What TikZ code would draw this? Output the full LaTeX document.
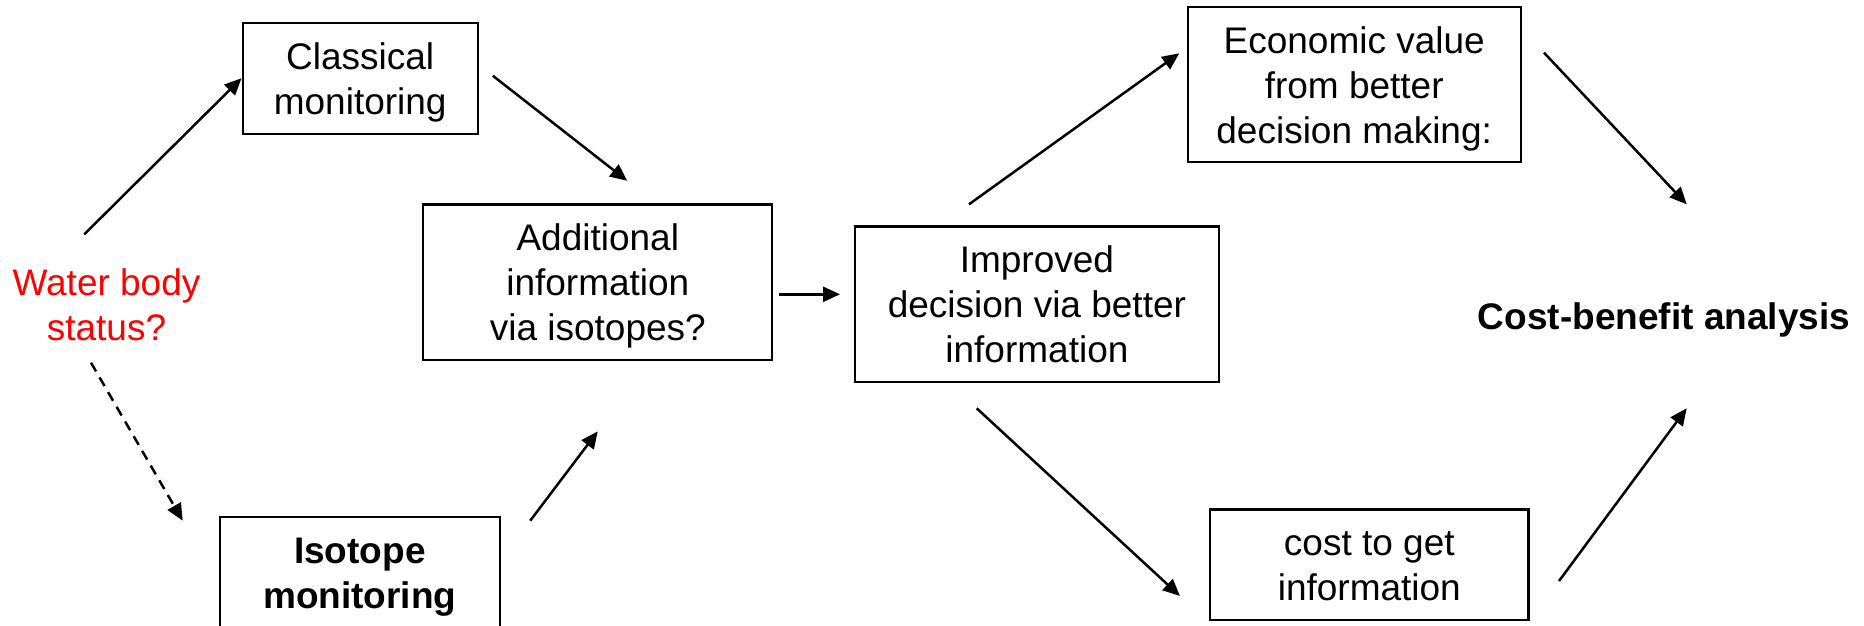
\documentclass[tikz,border=0pt]{standalone}
\usepackage{fontspec}
\setmainfont{Liberation Sans}
\usetikzlibrary{arrows.meta}
\newcommand{\lstrut}{\rule[-8.4pt]{0pt}{43.4pt}}
\begin{document}
\begin{tikzpicture}[x=1pt,y=-1pt,
  box/.style={draw, line width=2.3pt, rectangle, inner sep=0pt, align=center,
    font=\fontsize{37}{45}\selectfont},
  lbl/.style={inner sep=0pt, align=center, font=\fontsize{37}{45}\selectfont},
  arr/.style={line width=2.5pt, -{Triangle[length=17pt,width=15pt]}},
  darr/.style={arr, dash pattern=on 10pt off 7pt},
]
\useasboundingbox (0,0) rectangle (1864,626);
\clip (0,0) rectangle (1864,626);

% boxes
\node[box, minimum width=235pt, minimum height=111pt] (classical) at (360.2,78.2)
  {\lstrut Classical\\\lstrut monitoring};
\node[box, minimum width=349pt, minimum height=155.7pt] (additional) at (597.8,282.2)
  {\lstrut Additional\\\lstrut information\\\lstrut via isotopes?};
\node[box, minimum width=363.7pt, minimum height=155.7pt] (improved) at (1036.9,304.2)
  {\lstrut Improved\\\lstrut decision via better\\\lstrut information};
\node[box, minimum width=333pt, minimum height=155pt] (economic) at (1354.2,84.8)
  {\lstrut Economic value\\\lstrut from better\\\lstrut decision making:};
\node[box, minimum width=318.6pt, minimum height=110.7pt] (cost) at (1369.3,564.7)
  {\lstrut cost to get\\\lstrut information};
\node[box, minimum width=280.3pt, minimum height=111pt,
  font=\fontsize{37}{45}\selectfont\bfseries] (isotope) at (359.8,572.2)
  {\lstrut Isotope\\\lstrut monitoring};

% free labels
\node[lbl, text={rgb,255:red,255;green,0;blue,0}] (water) at (106.5,304.2)
  {\lstrut Water body\\\lstrut status?};
\node[lbl, font=\fontsize{37}{45}\selectfont\bfseries] (cba) at (1664,315.7)
  {\lstrut Cost-benefit analysis};

% connector end points
\coordinate (wS) at (84.3,234.3);
\coordinate (cS) at (492.9,75.8);
\coordinate (cE) at (627.2,180.8);
\coordinate (dS) at (91,362.7);
\coordinate (dE) at (182.7,520.7);
\coordinate (iS) at (530.2,520.7);
\coordinate (iE) at (597.8,431.3);
\coordinate (aS) at (779.3,294.3);
\coordinate (aE) at (840,294.3);
\coordinate (uS) at (969,204.3);
\coordinate (uE) at (1179.3,53.3);
\coordinate (lS) at (976.7,408.3);
\coordinate (lE) at (1180,596);
\coordinate (eS) at (1544,52.7);
\coordinate (eE) at (1686.7,204.3);
\coordinate (kS) at (1559,581);
\coordinate (kE) at (1686.7,408.3);

% connectors
\draw[arr] (wS) -- (classical.west);
\draw[arr] (cS) -- (cE);
\draw[darr] (dS) -- (dE);
\draw[arr] (iS) -- (iE);
\draw[arr] (aS) -- (aE);
\draw[arr] (uS) -- (uE);
\draw[arr] (lS) -- (lE);
\draw[arr] (eS) -- (eE);
\draw[arr] (kS) -- (kE);
\end{tikzpicture}
\end{document}
